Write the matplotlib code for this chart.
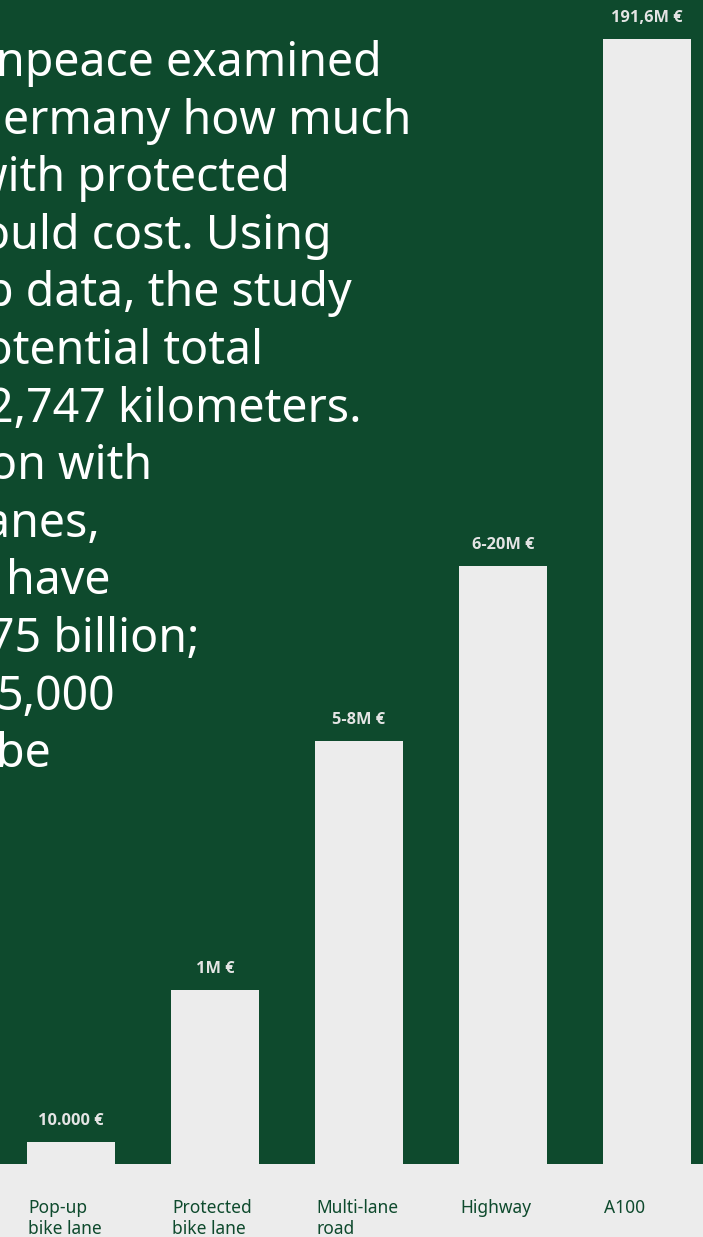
import matplotlib.pyplot as plt
import numpy as np

plt.rcParams['font.family'] = ['Noto Sans', 'DejaVu Sans']

# cost per km of road type
categories = ['Pop-up\nbike lane', 'Protected\nbike lane', 'Multi-lane\nroad', 'Highway', 'A100']
cost_labels = ['10.000 €', '1M €', '5-8M €', '6-20M €', '191,6M €']
# illustrative bar height (A100 = 100)
bar_height = [1.96, 15.47, 37.6, 53.16, 100]

# intro paragraph, only the right part of each line sits on the canvas
para_lines = ['npeace examined', 'ermany how much', 'with protected', 'ould cost. Using',
              'p data, the study', 'potential total', '2,747 kilometers.', 'on with',
              'lanes,', 'have', '75 billion;', '5,000', 'be']
para_right = [382, 411, 290, 332, 352, 263, 362, 152, 100, 110, 200, 115, 51]

green = '#0e4a2d'
grey = '#ececec'
W, H = 703, 1237

fig = plt.figure(figsize=(W / 100, H / 100), dpi=100, facecolor=green)
ax = fig.add_axes([0, 0, 1, 1])
ax.patch.set_visible(False)

px = 11.25  # pixels per height unit
x = np.arange(len(categories))
ax.set_xlim(-71 / 144, (W - 71) / 144)
ax.set_ylim(-(H - 1164) / px, 1164 / px)
ax.axis('off')

ax.axhspan(-100, 0, color=grey, lw=0, zorder=1)
ax.bar(x, bar_height, width=88 / 144, color=grey, lw=0, zorder=2)

for i, (h, lab) in enumerate(zip(bar_height, cost_labels)):
    ax.text(i, h + 21 / px, lab, ha='center', va='center', fontsize=11.8,
            fontweight='bold', family=['Open Sans', 'Noto Sans', 'DejaVu Sans'],
            color='#e4e4e4', zorder=3)

for i, cat in enumerate(categories):
    ax.text(i - 43 / 144, -35 / px, cat, ha='left', va='top', fontsize=12.5,
            color=green, linespacing=1.25, zorder=3)

for k, (line, xr) in enumerate(zip(para_lines, para_right)):
    base = 76 + 57.6 * k
    fig.text(xr / W, 1 - base / H, line, ha='right', va='baseline', fontsize=33.5,
             color='white')

fig.savefig('out.png', dpi=100, facecolor=green)
